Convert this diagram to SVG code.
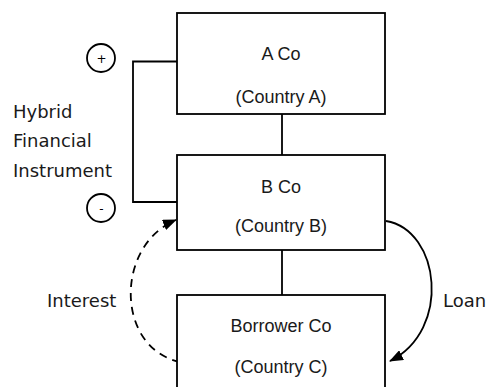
<svg xmlns="http://www.w3.org/2000/svg" width="490" height="387" viewBox="0 0 490 387">
<style>
.box{fill:#fff;stroke:#000;stroke-width:1.8}
.ln{fill:none;stroke:#000;stroke-width:1.8}
.t{font-family:"Liberation Sans",Arial,sans-serif;font-size:18px;fill:#1a1a1a;text-anchor:middle}
.l{font-family:"DejaVu Sans",Verdana,sans-serif;font-size:18px;fill:#1a1a1a}
.s{font-family:"DejaVu Sans",Verdana,sans-serif;font-size:12px;fill:#000;text-anchor:middle}
</style>
<defs>
<marker id="ah" viewBox="0 0 14 11" refX="13" refY="5.5" markerWidth="14" markerHeight="11" orient="auto" markerUnits="userSpaceOnUse">
<path d="M0,0 L14,5.5 L0,11 z" fill="#000"/>
</marker>
</defs>
<g id="connectors">
<line class="ln" x1="282" y1="114" x2="282" y2="155"/>
<line class="ln" x1="282" y1="250" x2="282" y2="295"/>
<polyline class="ln" points="180,61.5 133,61.5 133,202 180,202"/>
<path class="ln" d="M386,221 C440,230 452,330 390,361" marker-end="url(#ah)"/>
<path class="ln" d="M180,362 C115,348 115,245 176,220" stroke-dasharray="8,6" marker-end="url(#ah)"/>
</g>
<g id="nodeA">
<rect class="box" x="177" y="13" width="208" height="101"/>
<text class="t" x="281" y="60">A Co</text>
<text class="t" x="281" y="103">(Country A)</text>
</g>
<g id="nodeB">
<rect class="box" x="177" y="155" width="208" height="95"/>
<text class="t" x="281" y="193">B Co</text>
<text class="t" x="281" y="232">(Country B)</text>
</g>
<g id="nodeC">
<rect class="box" x="177" y="295" width="208" height="110"/>
<text class="t" x="281" y="332">Borrower Co</text>
<text class="t" x="281" y="373">(Country C)</text>
</g>
<g id="plus">
<circle class="ln" cx="101" cy="58" r="14"/>
<text class="s" x="101.5" y="63">+</text>
</g>
<g id="minus">
<circle class="ln" cx="101" cy="208" r="14"/>
<text class="s" x="101.5" y="213">-</text>
</g>
<g id="labels">
<text class="l" x="13" y="118">Hybrid</text>
<text class="l" x="13" y="147">Financial</text>
<text class="l" x="13" y="177">Instrument</text>
<text class="l" x="47" y="307">Interest</text>
<text class="l" x="443" y="307">Loan</text>
</g>
</svg>
